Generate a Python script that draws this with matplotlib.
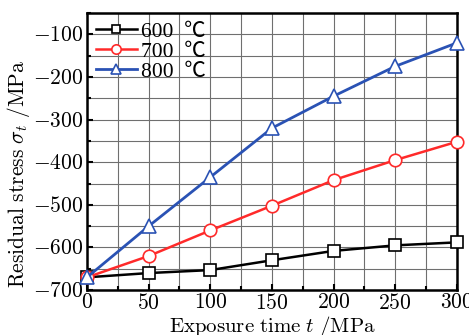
import matplotlib
matplotlib.use("Agg")
import matplotlib.pyplot as plt
from matplotlib.ticker import MultipleLocator, FuncFormatter

plt.rcParams['font.family'] = ['Liberation Serif', 'Noto Sans CJK SC', 'DejaVu Sans']
plt.rcParams['mathtext.fontset'] = 'cm'

time = [0, 50, 100, 150, 200, 250, 300]
s600 = [-670, -660, -653, -630, -608, -595, -588]
s700 = [-670, -620, -560, -502, -442, -395, -352]
s800 = [-670, -550, -435, -320, -245, -175, -120]
labels = ['600  ℃', '700  ℃', '800  ℃']

fig = plt.figure(figsize=(4.69, 3.35), dpi=100)
ax = fig.add_axes([0.1855, 0.134, 0.7885, 0.827])

ax.plot(time, s600, color='black', marker='s', mfc='white', mec='black', ms=8, mew=1.2, lw=1.8, label=labels[0], clip_on=False, zorder=5)
ax.plot(time, s700, color='#ff2a2a', marker='o', mfc='white', mec='#ff2a2a', ms=9, mew=1.2, lw=1.8, label=labels[1], clip_on=False, zorder=5)
ax.plot(time, s800, color='#2a52b4', marker='^', mfc='white', mec='#2a52b4', ms=10, mew=1.2, lw=2.0, label=labels[2], clip_on=False, zorder=5)

ax.set_xlim(0, 300)
ax.set_ylim(-700, -50)
ax.xaxis.set_major_locator(MultipleLocator(50))
ax.xaxis.set_minor_locator(MultipleLocator(25))
ax.yaxis.set_major_locator(MultipleLocator(100))
ax.yaxis.set_minor_locator(MultipleLocator(50))
fmt = FuncFormatter(lambda v, p: '$%d$' % int(round(v)))
ax.xaxis.set_major_formatter(fmt)
ax.yaxis.set_major_formatter(fmt)
ax.grid(True, which='both', color='#6f6f6f', lw=0.8)
ax.set_axisbelow(True)
ax.tick_params(which='both', direction='in', labelsize=15.5, width=1.5)
ax.tick_params(which='major', length=4, pad=3)
ax.tick_params(which='minor', length=3)
for s in ax.spines.values():
    s.set_linewidth(1.8)

ax.set_xlabel(r'$\mathrm{Exposure\ time}\ t\ \mathrm{/MPa}$', fontsize=15)
ax.set_ylabel(r'$\mathrm{Residual\ stress}\ \sigma_t\ \mathrm{/MPa}$', fontsize=15.5)
ax.yaxis.set_label_coords(-0.148, 0.42)
ax.xaxis.set_label_coords(0.5, -0.085)

leg = ax.legend(loc='upper left', frameon=False, fontsize=15.5, handlelength=1.9,
                handletextpad=0.2, labelspacing=0.0, borderaxespad=0.2, borderpad=0.2,
                markerscale=0.75)

fig.savefig('out.png', dpi=100)
